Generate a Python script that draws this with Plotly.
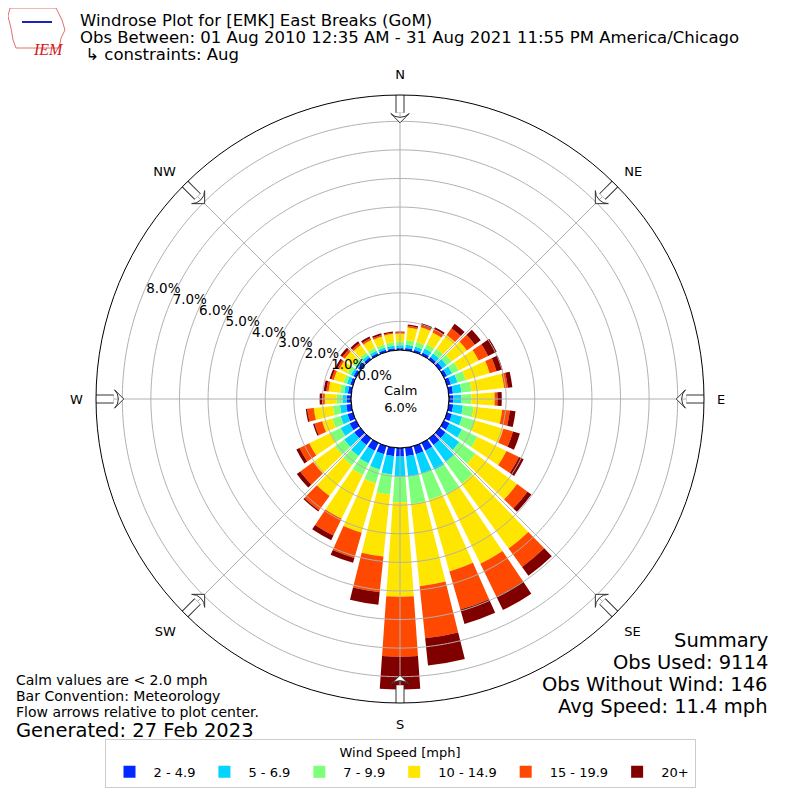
import numpy as np
import plotly.graph_objects as go

# wind direction bins (degrees, 10 degree wide) and speed bins
directions = list(range(0, 360, 10))
speed_bins = ["2 - 4.9", "5 - 6.9", "7 - 9.9", "10 - 14.9", "15 - 19.9", "20+"]
bin_colors = ["#0028ff", "#00d4ff", "#7dff7a", "#ffe600", "#ff4800", "#800000"]

# percent of observations in each direction bin, per speed bin
pct_2_5 = [0.07, 0.08, 0.08, 0.10, 0.10, 0.12, 0.12, 0.14, 0.15, 0.15, 0.16, 0.18,
           0.22, 0.26, 0.28, 0.30, 0.30, 0.30, 0.30, 0.30, 0.30, 0.30, 0.28, 0.27,
           0.25, 0.20, 0.18, 0.15, 0.12, 0.10, 0.10, 0.10, 0.09, 0.08, 0.08, 0.07]
pct_5_7 = [0.10, 0.12, 0.12, 0.15, 0.16, 0.18, 0.20, 0.24, 0.30, 0.29, 0.34, 0.37,
           0.48, 0.59, 0.72, 0.75, 0.70, 0.72, 0.70, 0.65, 0.55, 0.50, 0.47, 0.43,
           0.35, 0.25, 0.22, 0.15, 0.13, 0.12, 0.10, 0.10, 0.09, 0.09, 0.08, 0.09]
pct_7_10 = [0.13, 0.15, 0.16, 0.17, 0.20, 0.22, 0.25, 0.30, 0.35, 0.35, 0.38, 0.45,
            0.60, 0.70, 0.95, 0.95, 0.95, 0.96, 0.90, 0.70, 0.50, 0.45, 0.40, 0.40,
            0.40, 0.30, 0.25, 0.20, 0.15, 0.13, 0.13, 0.13, 0.12, 0.11, 0.11, 0.12]
pct_10_15 = [0.28, 0.45, 0.54, 0.46, 0.60, 0.66, 0.78, 0.87, 1.15, 0.81, 1.00, 1.05,
             1.13, 1.80, 2.80, 2.70, 2.61, 2.89, 3.30, 2.18, 1.80, 1.70, 1.33, 0.94,
             0.82, 0.37, 0.67, 0.42, 0.40, 0.35, 0.32, 0.35, 0.32, 0.30, 0.29, 0.30]
pct_15_20 = [0.04, 0.06, 0.07, 0.12, 0.29, 0.34, 0.37, 0.25, 0.13, 0.10, 0.27, 0.35,
             0.49, 0.45, 0.80, 1.28, 1.39, 1.83, 2.10, 1.25, 0.92, 0.65, 0.62, 0.56,
             0.38, 0.28, 0.23, 0.07, 0.08, 0.08, 0.07, 0.10, 0.08, 0.07, 0.06, 0.04]
pct_20_up = [0.03, 0.05, 0.07, 0.08, 0.19, 0.26, 0.33, 0.22, 0.16, 0.15, 0.20, 0.25,
             0.18, 0.17, 0.38, 0.52, 0.52, 0.96, 1.15, 0.44, 0.18, 0.18, 0.05, 0.15,
             0.12, 0.05, 0.05, 0.11, 0.09, 0.07, 0.08, 0.09, 0.08, 0.07, 0.06, 0.04]
speed_values = [pct_2_5, pct_5_7, pct_7_10, pct_10_15, pct_15_20, pct_20_up]

radial_ticks = [0, 1, 2, 3, 4, 5, 6, 7, 8]
compass_angles = [0, 45, 90, 135, 180, 225, 270, 315]
compass_labels = ["N", "NE", "E", "SE", "S", "SW", "W", "NW"]
r_max = 8.92

# the page body adds an 8px margin, so positions are laid out 8px up/left
OFF = 8


def px(x, y):
    return (x - OFF) / 800, 1 - (y - OFF) / 800


fig = go.Figure()

for name, vals, color in zip(speed_bins, speed_values, bin_colors):
    fig.add_trace(go.Barpolar(
        r=vals, theta=directions, width=8, name=name,
        marker=dict(color=color, line=dict(width=0)),
    ))

# grid drawn on top of the bars, like the original
circle_theta = np.arange(0, 361, 1)
for t in radial_ticks[1:]:
    fig.add_trace(go.Scatterpolar(
        r=[t] * len(circle_theta), theta=circle_theta, mode="lines",
        line=dict(color="#b0b0b0", width=1), showlegend=False, hoverinfo="skip"))
for a in compass_angles:
    fig.add_trace(go.Scatterpolar(
        r=[0, r_max], theta=[a, a], mode="lines",
        line=dict(color="#b0b0b0", width=1), showlegend=False, hoverinfo="skip"))
# edge of the calm circle
fig.add_trace(go.Scatterpolar(
    r=[0] * len(circle_theta), theta=circle_theta, mode="lines",
    line=dict(color="black", width=1), showlegend=False, hoverinfo="skip"))

# flow arrows at the compass points
shaft_r, shaft_t = [], []
for a in compass_angles:
    shaft_r += [8.3, r_max, None]
    shaft_t += [a, a, None]
fig.add_trace(go.Scatterpolar(r=shaft_r, theta=shaft_t, mode="lines",
                              line=dict(color="#333333", width=9),
                              showlegend=False, hoverinfo="skip"))
fig.add_trace(go.Scatterpolar(r=shaft_r, theta=shaft_t, mode="lines",
                              line=dict(color="white", width=7),
                              showlegend=False, hoverinfo="skip"))
fig.add_trace(go.Scatterpolar(
    r=[7.95] * len(compass_angles), theta=compass_angles, mode="markers",
    marker=dict(symbol="arrow-wide", size=13, color="white",
                angle=[a + 180 for a in compass_angles],
                line=dict(color="#333333", width=1)),
    showlegend=False, hoverinfo="skip"))

dx0, dy1 = px(96, 95)
dx1, dy0 = px(704, 703)
lx, ly = px(400, 788)

fig.update_layout(
    width=800, height=800,
    margin=dict(l=0, r=0, t=0, b=0),
    paper_bgcolor="white",
    font=dict(family="DejaVu Sans", color="black", size=13),
    polar=dict(
        domain=dict(x=[dx0, dx1], y=[dy0, dy1]),
        hole=0.161,
        bgcolor="white",
        barmode="stack",
        radialaxis=dict(range=[0, r_max], tickvals=radial_ticks,
                        ticktext=[f"{v:.1f}%" for v in radial_ticks],
                        angle=157.5, tickangle=157.5, showgrid=False, showline=False,
                        ticks="", tickfont=dict(size=13.5)),
        angularaxis=dict(rotation=90, direction="clockwise",
                         tickvals=compass_angles, ticktext=compass_labels,
                         showgrid=False, showline=True, linecolor="black",
                         linewidth=1, ticks="outside", ticklen=10,
                         tickcolor="rgba(0,0,0,0)", tickfont=dict(size=13)),
    ),
    legend=dict(orientation="h", x=lx, xanchor="center", y=ly, yanchor="bottom",
                bordercolor="#cccccc", borderwidth=1, font=dict(size=13),
                itemwidth=38,
                title=dict(text="Wind Speed [mph]", side="top center",
                           font=dict(size=13))),
    showlegend=True,
)


def note(text, x, y, size, anchor="left"):
    ax, ay = px(x, y)
    fig.add_annotation(text=text, x=ax, y=ay, xref="paper", yref="paper",
                       xanchor=anchor, yanchor="middle", showarrow=False,
                       borderpad=0, font=dict(size=size, color="black"))


note("Windrose Plot for [EMK] East Breaks (GoM)", 79, 21, 16.5)
note("Obs Between: 01 Aug 2010 12:35 AM - 31 Aug 2021 11:55 PM America/Chicago", 79, 38, 16.5)
note(" ↳ constraints: Aug", 79, 55, 16.5)

note("Calm<br>6.0%", 400, 399, 13, anchor="center")

note("Calm values are < 2.0 mph", 15, 680, 14)
note("Bar Convention: Meteorology", 15, 696, 14)
note("Flow arrows relative to plot center.", 15, 712, 14)
note("Generated: 27 Feb 2023", 15, 730, 19.5)

note("Summary", 769, 640, 19.5, anchor="right")
note("Obs Used: 9114", 769, 662, 19.5, anchor="right")
note("Obs Without Wind: 146", 769, 684, 19.5, anchor="right")
note("Avg Speed: 11.4 mph", 769, 706, 19.5, anchor="right")

# small IEM logo
logo_pts = [(10, 8), (56, 8), (59, 14), (62, 20), (65, 30), (61, 38), (59, 48),
            (16, 48), (13, 40), (11, 28), (8, 16)]
path = "M " + " L ".join(f"{px(x, y)[0]:.4f} {px(x, y)[1]:.4f}" for x, y in logo_pts) + " Z"
fig.add_shape(type="path", xref="paper", yref="paper", path=path,
              line=dict(color="#e07070", width=1))
bx0, by = px(22, 22)
bx1, _ = px(52, 22)
fig.add_shape(type="line", xref="paper", yref="paper", x0=bx0, x1=bx1,
              y0=by, y1=by, line=dict(color="#2020c0", width=2))
ix, iy = px(31, 39)
fig.add_annotation(text="<i>IEM</i>", x=ix, y=iy, xref="paper", yref="paper",
                   showarrow=False, font=dict(family="Liberation Serif", size=16,
                                              color="#d02020"))

fig.write_html("out.html")
